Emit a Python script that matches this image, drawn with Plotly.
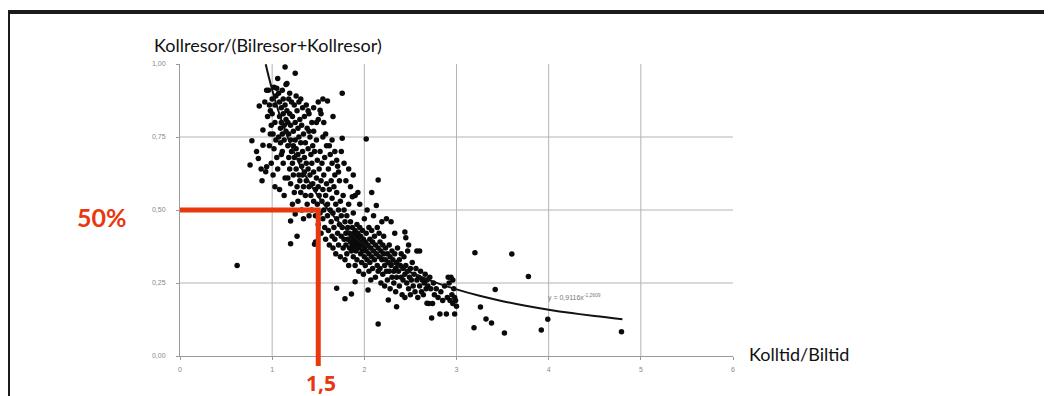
import plotly.graph_objects as go

# ---- data ----
pts = [
 (0.62,0.31),(0.76,0.654),(0.78,0.737),(0.86,0.856),(0.85,0.676),(0.90,0.774),(0.90,0.722),(0.88,0.64),
 (0.93,0.631),(0.94,0.648),(0.92,0.87),(0.95,0.82),(0.83,0.70),(0.89,0.60),(0.94,0.91),
 (0.96,0.91),(0.97,0.86),(0.98,0.84),(0.99,0.79),(1.0,0.88),(1.0,0.83),(1.01,0.76),(1.02,0.92),(1.02,0.71),
 (1.03,0.86),(1.03,0.80),(1.04,0.74),(1.04,0.89),(1.05,0.917),(1.05,0.68),(0.97,0.72),(0.99,0.66),(1.01,0.62),
 (1.03,0.58),(0.98,0.76),
 (1.06,0.95),(1.07,0.90),(1.08,0.87),(1.08,0.82),(1.09,0.78),(1.09,0.73),(1.10,0.85),(1.10,0.80),(1.11,0.76),
 (1.11,0.70),(1.12,0.88),(1.12,0.83),(1.12,0.66),(1.13,0.79),(1.13,0.74),(1.14,0.99),(1.14,0.86),(1.14,0.61),
 (1.15,0.93),(1.15,0.81),(1.15,0.77),(1.06,0.64),(1.08,0.57),(1.10,0.69),(1.13,0.55),(1.07,0.75),(1.11,0.91),
 (1.16,0.933),(1.16,0.84),(1.17,0.80),(1.17,0.72),(1.18,0.88),(1.18,0.76),(1.18,0.68),(1.19,0.83),(1.19,0.64),
 (1.20,0.79),(1.20,0.74),(1.20,0.59),(1.20,0.462),(1.20,0.384),(1.21,0.87),(1.21,0.70),(1.22,0.82),(1.22,0.66),
 (1.22,0.52),(1.23,0.77),(1.23,0.72),(1.23,0.62),(1.24,0.86),(1.24,0.68),(1.24,0.56),(1.25,0.968),(1.25,0.80),
 (1.25,0.74),(1.25,0.486),(1.19,0.90),(1.17,0.61),
 (1.26,0.89),(1.26,0.71),(1.26,0.64),(1.27,0.84),(1.27,0.41),(1.27,0.58),(1.28,0.78),(1.28,0.69),(1.28,0.53),
 (1.29,0.87),(1.29,0.75),(1.29,0.62),(1.30,0.81),(1.30,0.67),(1.30,0.60),(1.31,0.73),(1.31,0.56),(1.31,0.88),
 (1.32,0.79),(1.32,0.65),(1.32,0.50),(1.33,0.85),(1.33,0.70),(1.33,0.62),(1.34,0.76),(1.34,0.58),(1.34,0.47),
 (1.35,0.82),(1.35,0.68),(1.35,0.63),
 (1.36,0.73),(1.36,0.55),(1.37,0.86),(1.37,0.66),(1.37,0.60),(1.38,0.78),(1.38,0.52),(1.39,0.71),(1.39,0.64),
 (1.40,0.83),(1.40,0.58),(1.40,0.48),(1.41,0.75),(1.41,0.62),(1.42,0.69),(1.42,0.55),(1.43,0.80),(1.43,0.66),
 (1.43,0.50),(1.44,0.72),(1.44,0.59),(1.45,0.63),(1.45,0.53),(1.45,0.77),(1.39,0.84),(1.40,0.77),
 (1.46,0.383),(1.47,0.39),(1.46,0.70),(1.47,0.57),(1.47,0.48),(1.48,0.74),(1.48,0.61),(1.49,0.67),(1.49,0.52),
 (1.50,0.58),(1.50,0.45),(1.50,0.81),(1.51,0.64),(1.51,0.55),(1.52,0.70),(1.52,0.49),(1.53,0.60),(1.53,0.42),
 (1.54,0.66),(1.54,0.53),(1.55,0.75),(1.55,0.57),(1.55,0.47),(1.45,0.85),(1.50,0.87),(1.52,0.842),(1.53,0.83),
 (1.48,0.80),(1.55,0.88),
 (1.56,0.62),(1.56,0.50),(1.57,0.68),(1.57,0.44),(1.58,0.55),(1.58,0.40),(1.59,0.72),(1.59,0.59),(1.60,0.873),
 (1.60,0.48),(1.60,0.52),(1.61,0.64),(1.61,0.43),(1.62,0.57),(1.62,0.38),(1.63,0.69),(1.63,0.50),(1.64,0.46),
 (1.64,0.60),(1.65,0.41),(1.65,0.54),(1.65,0.66),(1.56,0.80),(1.58,0.76),(1.62,0.72),(1.65,0.74),
 (1.66,0.49),(1.66,0.37),(1.67,0.58),(1.67,0.44),(1.68,0.62),(1.68,0.40),(1.69,0.52),(1.69,0.35),(1.70,0.232),
 (1.70,0.47),(1.70,0.56),(1.71,0.42),(1.71,0.65),(1.72,0.38),(1.72,0.50),(1.73,0.45),(1.73,0.60),(1.74,0.34),
 (1.74,0.53),(1.75,0.41),(1.75,0.48),(1.75,0.70),(1.66,0.82),(1.68,0.70),(1.70,0.67),(1.72,0.63),
 (1.76,0.746),(1.76,0.90),(1.76,0.44),(1.77,0.37),(1.77,0.55),(1.78,0.40),(1.78,0.50),(1.79,0.196),(1.79,0.33),
 (1.79,0.46),(1.80,0.42),(1.80,0.38),(1.80,0.60),(1.81,0.35),(1.81,0.48),(1.82,0.40),(1.82,0.44),(1.83,0.31),
 (1.83,0.52),(1.84,0.37),(1.84,0.42),(1.85,0.39),(1.85,0.46),(1.85,0.58),(1.78,0.66),(1.83,0.64),
 (1.86,0.212),(1.86,0.36),(1.86,0.41),(1.87,0.44),(1.87,0.38),(1.88,0.40),(1.88,0.34),(1.88,0.49),(1.89,0.42),
 (1.89,0.37),(1.90,0.254),(1.90,0.39),(1.90,0.43),(1.90,0.31),(1.91,0.41),(1.91,0.36),(1.92,0.45),(1.92,0.38),
 (1.92,0.33),(1.93,0.40),(1.93,0.42),(1.94,0.37),(1.94,0.29),(1.95,0.39),(1.95,0.44),(1.95,0.52),(1.93,0.56),
 (1.88,0.62),(1.90,0.55),(1.87,0.545),
 (1.96,0.35),(1.96,0.41),(1.97,0.38),(1.97,0.32),(1.98,0.43),(1.98,0.36),(1.99,0.40),(1.99,0.28),(2.00,0.37),
 (2.00,0.34),(2.00,0.47),(2.01,0.39),(2.01,0.31),(2.02,0.743),(2.02,0.42),(2.02,0.36),(2.03,0.33),(2.03,0.50),
 (2.04,0.226),(2.04,0.38),(2.05,0.35),(2.05,0.44),(2.05,0.29),
 (2.06,0.40),(2.06,0.32),(2.07,0.37),(2.07,0.26),(2.08,0.43),(2.08,0.34),(2.08,0.56),(2.09,0.39),(2.09,0.30),
 (2.10,0.36),(2.10,0.48),(2.11,0.33),(2.11,0.41),(2.12,0.27),(2.12,0.38),(2.13,0.515),(2.13,0.35),(2.14,0.31),
 (2.14,0.44),(2.15,0.11),(2.15,0.603),(2.15,0.37),(2.15,0.29),
 (2.16,0.34),(2.16,0.42),(2.17,0.30),(2.17,0.39),(2.18,0.36),(2.18,0.25),(2.19,0.33),(2.19,0.46),(2.20,0.38),
 (2.20,0.28),(2.21,0.35),(2.21,0.41),(2.22,0.31),(2.22,0.24),(2.23,0.37),(2.23,0.33),(2.24,0.29),(2.24,0.47),
 (2.25,0.35),(2.25,0.26),
 (2.26,0.192),(2.26,0.32),(2.27,0.38),(2.27,0.29),(2.28,0.34),(2.28,0.23),(2.29,0.31),(2.29,0.46),(2.30,0.27),
 (2.30,0.36),(2.31,0.33),(2.32,0.29),(2.32,0.25),(2.33,0.35),(2.33,0.42),(2.34,0.30),(2.34,0.22),(2.35,0.169),
 (2.35,0.32),(2.35,0.27),
 (2.36,0.37),(2.37,0.29),(2.38,0.33),(2.38,0.24),(2.39,0.31),(2.40,0.27),(2.40,0.35),(2.41,0.21),(2.42,0.30),
 (2.42,0.26),(2.43,0.34),(2.44,0.2),(2.44,0.28),(2.44,0.425),(2.45,0.31),(2.45,0.405),(2.46,0.25),(2.47,0.29),
 (2.47,0.36),(2.48,0.23),(2.48,0.38),(2.49,0.27),(2.50,0.30),(2.50,0.21),
 (2.51,0.26),(2.52,0.32),(2.53,0.24),(2.54,0.28),(2.55,0.22),(2.56,0.30),(2.57,0.26),(2.57,0.36),(2.58,0.20),
 (2.59,0.27),(2.60,0.24),(2.60,0.36),(2.61,0.29),(2.62,0.22),(2.63,0.26),(2.64,0.21),(2.65,0.25),(2.66,0.28),
 (2.67,0.23),(2.68,0.181),(2.68,0.26),(2.69,0.24),(2.70,0.18),
 (2.71,0.27),(2.72,0.23),(2.73,0.13),(2.74,0.18),(2.75,0.25),(2.76,0.21),(2.78,0.23),(2.80,0.20),(2.82,0.144),
 (2.83,0.22),(2.85,0.19),(2.87,0.24),(2.89,0.144),(2.90,0.20),(2.91,0.27),(2.92,0.25),(2.93,0.19),(2.94,0.27),
 (2.95,0.21),(2.96,0.26),(2.96,0.18),(2.97,0.23),(2.98,0.144),(2.98,0.20),(2.99,0.19),(3.00,0.17),
 (3.19,0.097),(3.20,0.354),(3.26,0.168),(3.32,0.127),(3.38,0.113),(3.42,0.228),(3.52,0.079),(3.60,0.349),
 (3.78,0.272),(3.92,0.089),(3.99,0.126),(4.79,0.083),
]
x_vals = [p[0] for p in pts]
y_vals = [p[1] for p in pts]

# power trend line shown in the chart: y = a * x^b
trend_a = 0.9116
trend_b = -1.2609
trend_x = [0.93, 0.96, 1.0, 1.05, 1.1, 1.15, 1.2, 1.3, 1.4, 1.5, 1.6, 1.7, 1.8, 1.9, 2.0, 2.2, 2.4,
           2.6, 2.8, 3.0, 3.25, 3.5, 3.75, 4.0, 4.25, 4.5, 4.8]
trend_y = [trend_a * xv ** trend_b for xv in trend_x]

x_ticks = [0, 1, 2, 3, 4, 5, 6]
x_ticktext = ["0", "1", "2", "3", "4", "5", "6"]
y_ticks = [0, 0.25, 0.5, 0.75, 1.0]
y_ticktext = ["0,00", "0,25", "0,50", "0,75", "1,00"]
x_grid = [1, 2, 3, 4, 5]
y_grid = [0.25, 0.5, 0.75]

mark_x = 1.5
mark_y = 0.5
X_MAX = 6.0
Y_MAX = 1.0

# ---- layout geometry (page has an 8px body margin) ----
OFF = 8
W, H = 1044, 388
ML, MT = 172, 56
PW, PH = 553, 292
MR = W - ML - PW
MB = H - MT - PH

def px_x(px):  # page pixel -> paper x
    return (px - OFF - ML) / PW

def px_y(py):  # page pixel -> paper y
    return (MT + PH - (py - OFF)) / PH

RED = "#E8380D"
TXT_FONT = "Lato, Open Sans, sans-serif"
fig = go.Figure()
fig.add_trace(go.Scatter(x=x_vals, y=y_vals, mode="markers",
                         marker=dict(size=5.5, color="#0a0a0a", line=dict(width=0)),
                         hoverinfo="skip", showlegend=False))
fig.add_trace(go.Scatter(x=trend_x, y=trend_y, mode="lines", line=dict(color="#111", width=2),
                         line_shape="spline", hoverinfo="skip", showlegend=False))

shapes = []
for gx in x_grid:
    shapes.append(dict(type="line", xref="x", yref="y", x0=gx, x1=gx, y0=0, y1=Y_MAX,
                       line=dict(color="#b4b4b4", width=1), layer="below"))
for gy in y_grid:
    shapes.append(dict(type="line", xref="x", yref="y", x0=0, x1=X_MAX, y0=gy, y1=gy,
                       line=dict(color="#b4b4b4", width=1), layer="below"))

# red marker lines (paper coordinates so they can extend below the axis)
mx = mark_x / X_MAX
my = mark_y / Y_MAX
shapes.append(dict(type="path", xref="paper", yref="paper",
                   path=f"M 0 {my} L {mx} {my} L {mx} {px_y(366)}",
                   line=dict(color=RED, width=5), layer="above"))
# frame lines (top and left)
shapes.append(dict(type="line", xref="paper", yref="paper", x0=px_x(6), x1=px_x(1060),
                   y0=px_y(12), y1=px_y(12), line=dict(color="#1c1c1c", width=4)))
shapes.append(dict(type="line", xref="paper", yref="paper", x0=px_x(8), x1=px_x(8),
                   y0=px_y(10), y1=px_y(400), line=dict(color="#1c1c1c", width=4)))

annotations = [
    dict(text="Kollresor/(Bilresor+Kollresor)", xref="paper", yref="paper", x=px_x(152), y=px_y(45),
         xanchor="left", yanchor="middle", showarrow=False,
         font=dict(family=TXT_FONT, size=18, color="#111")),
    dict(text="Kolltid/Biltid", xref="paper", yref="paper", x=px_x(747), y=px_y(354),
         xanchor="left", yanchor="middle", showarrow=False,
         font=dict(family=TXT_FONT, size=18, color="#111")),
    dict(text="<b>50%</b>", xref="paper", yref="paper", x=px_x(129), y=px_y(217),
         xanchor="right", yanchor="middle", showarrow=False,
         font=dict(family=TXT_FONT, size=25, color=RED)),
    dict(text="<b>1,5</b>", xref="paper", yref="paper", x=px_x(321), y=px_y(383),
         xanchor="center", yanchor="middle", showarrow=False,
         font=dict(family="Open Sans, Lato, sans-serif", size=21, color=RED)),
    dict(text="y = 0,9116x<sup>-1,2609</sup>", xref="x", yref="y", x=3.97, y=0.20,
         xanchor="left", yanchor="middle", showarrow=False,
         font=dict(family="Liberation Sans, Arial, sans-serif", size=7, color="#777")),
]

fig.update_layout(
    width=W, height=H, margin=dict(l=ML, r=MR, t=MT, b=MB, autoexpand=False),
    paper_bgcolor="white", plot_bgcolor="white", showlegend=False,
    shapes=shapes, annotations=annotations,
    xaxis=dict(range=[0, X_MAX], tickvals=x_ticks, ticktext=x_ticktext, showgrid=False, zeroline=False,
               showline=True, linecolor="#9a9a9a", linewidth=1, ticks="outside", ticklen=3,
               tickcolor="#9a9a9a", ticklabelstandoff=4,
               tickfont=dict(family="Liberation Sans, Arial, sans-serif", size=7, color="#888"),
               fixedrange=True),
    yaxis=dict(range=[0, Y_MAX], tickvals=y_ticks, ticktext=y_ticktext, showgrid=False, zeroline=False,
               showline=True, linecolor="#9a9a9a", linewidth=1, ticks="outside", ticklen=3,
               tickcolor="#9a9a9a", ticklabelstandoff=9,
               tickfont=dict(family="Liberation Sans, Arial, sans-serif", size=7, color="#888"),
               fixedrange=True),
)

fig.write_html("out.html")
